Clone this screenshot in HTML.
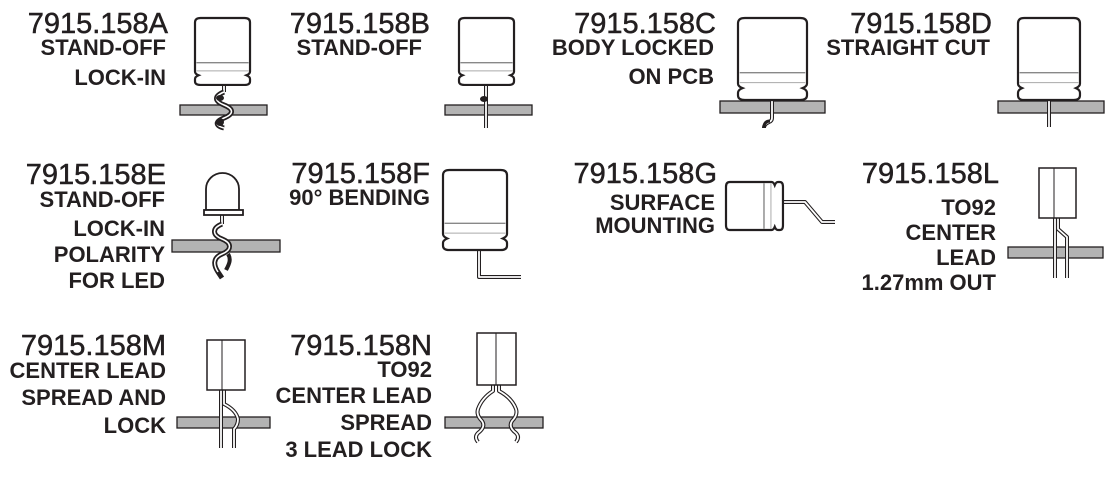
<!DOCTYPE html>
<html><head><meta charset="utf-8"><style>
html,body{margin:0;padding:0;background:#fff;}
svg{display:block;}
.t{font-family:"Liberation Sans",Arial,sans-serif;font-size:29px;fill:#231f20;stroke:#231f20;stroke-width:0.5;text-anchor:end;}
.s{font-family:"Liberation Sans",Arial,sans-serif;font-size:22px;font-weight:bold;fill:#231f20;text-anchor:end;}
.brd{fill:#b3b3b3;stroke:#231f20;stroke-width:1.3;}
.bo{fill:none;stroke:#231f20;stroke-width:4;stroke-linejoin:round;}
.wi{fill:none;stroke:#fff;stroke-width:1.8;stroke-linejoin:round;}
.box{fill:#fff;stroke:#231f20;stroke-width:1.5;}
</style></head><body>
<svg width="1115" height="483" viewBox="0 0 1115 483" xmlns="http://www.w3.org/2000/svg">
<defs>
<g id="cap">
<path d="M6,0 H54 Q60,0 60,6 V72 Q60,75 56,77 Q60,79 60,82 V85 Q60,90 54,90 H6 Q0,90 0,85 V82 Q0,79 4,77 Q0,75 0,72 V6 Q0,0 6,0 Z" fill="#fff" stroke="#231f20" stroke-width="2.2" vector-effect="non-scaling-stroke"/>
<line x1="1.5" y1="60" x2="58.5" y2="60" stroke="#888" stroke-width="1.4" vector-effect="non-scaling-stroke"/>
<line x1="1.5" y1="71" x2="58.5" y2="71" stroke="#aaa" stroke-width="1" vector-effect="non-scaling-stroke"/>
</g>
</defs>

<!-- Row 1 text -->
<text class="t" x="168" y="33">7915.158A</text>
<text class="s" x="166" y="55">STAND-OFF</text>
<text class="s" x="166" y="85">LOCK-IN</text>

<text class="t" x="430" y="33">7915.158B</text>
<text class="s" x="422" y="55">STAND-OFF</text>

<text class="t" x="716" y="33">7915.158C</text>
<text class="s" x="714" y="55">BODY LOCKED</text>
<text class="s" x="714" y="84">ON PCB</text>

<text class="t" x="992" y="33">7915.158D</text>
<text class="s" x="990" y="55">STRAIGHT CUT</text>

<!-- A -->
<rect class="brd" x="180" y="105" width="87" height="10"/>
<path class="bo" d="M224,85 V92"/><path class="wi" d="M224,85 V92"/>
<path d="M224,92 C214,96 214,101 224,105 C234,109 234,114 224,118 C214,122 216,126 224,128" fill="none" stroke="#231f20" stroke-width="5"/>
<path d="M224,92 C214,96 214,101 224,105 C234,109 234,114 224,118 C214,122 216,126 224,128" fill="none" stroke="#fff" stroke-width="1.5"/>
<ellipse cx="220" cy="98" rx="4" ry="3" fill="#231f20"/>
<ellipse cx="220" cy="122" rx="4" ry="4" fill="#231f20"/>
<use href="#cap" transform="translate(195,18) scale(0.917,0.744)"/>

<!-- B -->
<rect class="brd" x="445" y="105" width="87" height="10"/>
<path class="bo" d="M486,85 V128"/><path class="wi" d="M486,85 V128"/>
<ellipse cx="484" cy="99" rx="4" ry="3" fill="#231f20"/>
<use href="#cap" transform="translate(459,18) scale(0.917,0.744)"/>

<!-- C -->
<rect class="brd" x="720" y="101" width="105" height="12"/>
<path class="bo" d="M772,100 V118 Q772,121 769,122 Q764,124 764,128"/><path class="wi" d="M772,100 V118 Q772,121 769,122 Q764,124 764,128"/>
<path d="M764,128 Q764,121 770,121" fill="none" stroke="#231f20" stroke-width="3"/>
<use href="#cap" transform="translate(738,18) scale(1.15,0.911)"/>

<!-- D -->
<rect class="brd" x="998" y="101" width="106" height="12"/>
<path class="bo" d="M1049,100 V127"/><path class="wi" d="M1049,100 V127"/>
<use href="#cap" transform="translate(1018,18) scale(1.033,0.911)"/>

<!-- Row 2 text -->
<text class="t" x="166" y="184">7915.158E</text>
<text class="s" x="165" y="207">STAND-OFF</text>
<text class="s" x="165" y="236">LOCK-IN</text>
<text class="s" x="165" y="262">POLARITY</text>
<text class="s" x="165" y="288">FOR LED</text>

<text class="t" x="430" y="183">7915.158F</text>
<text class="s" x="430" y="205">90° BENDING</text>

<text class="t" x="717" y="183">7915.158G</text>
<text class="s" x="715" y="210">SURFACE</text>
<text class="s" x="715" y="233">MOUNTING</text>

<text class="t" x="999" y="183">7915.158L</text>
<text class="s" x="996" y="215">TO92</text>
<text class="s" x="996" y="240">CENTER</text>
<text class="s" x="996" y="265">LEAD</text>
<text class="s" x="996" y="290">1.27mm OUT</text>

<!-- E LED -->
<rect class="brd" x="172" y="240" width="108" height="12"/>
<path class="bo" d="M222,215 V224"/><path class="wi" d="M222,215 V224"/>
<path d="M222,224 C212,228 212,235 222,239 C232,243 232,250 222,254 C212,258 214,266 218,272 L222,278" fill="none" stroke="#231f20" stroke-width="5"/>
<path d="M222,224 C212,228 212,235 222,239 C232,243 232,250 222,254 C212,258 214,266 218,272" fill="none" stroke="#fff" stroke-width="1.5"/>
<path d="M228,254 C232,260 228,266 226,270" fill="none" stroke="#231f20" stroke-width="4"/>
<path d="M206,210 V189 A16.5,16 0 0 1 239,189 V210 Z" fill="#fff" stroke="#231f20" stroke-width="1.8"/>
<rect x="204" y="210" width="39" height="5" fill="#fff" stroke="#231f20" stroke-width="1.8"/>

<!-- F -->
<path class="bo" d="M479,250 V277 H521"/><path class="wi" d="M479,250 V277 H521"/>
<use href="#cap" transform="translate(443,170) scale(1.067,0.889)"/>

<!-- G -->
<path class="bo" d="M783,202 H805 L822,222 H835"/><path class="wi" d="M783,202 H805 L822,222 H835"/>
<use href="#cap" transform="translate(726,230) rotate(-90) scale(0.8,0.633)"/>

<!-- L -->
<rect class="brd" x="1008" y="247" width="95" height="11"/>
<path class="bo" d="M1055,218 V278"/><path class="wi" d="M1055,218 V278"/>
<path class="bo" d="M1058,218 V229 L1067,237 V278"/><path class="wi" d="M1058,218 V229 L1067,237 V278"/>
<rect class="box" x="1039" y="168" width="37" height="50"/>
<line x1="1054" y1="168" x2="1054" y2="218" stroke="#231f20" stroke-width="1"/>

<!-- Row 3 text -->
<text class="t" x="166" y="355">7915.158M</text>
<text class="s" x="166" y="378">CENTER LEAD</text>
<text class="s" x="166" y="405">SPREAD AND</text>
<text class="s" x="166" y="433">LOCK</text>

<text class="t" x="432" y="355">7915.158N</text>
<text class="s" x="432" y="377">TO92</text>
<text class="s" x="432" y="403">CENTER LEAD</text>
<text class="s" x="432" y="430">SPREAD</text>
<text class="s" x="432" y="457">3 LEAD LOCK</text>

<!-- M -->
<rect class="brd" x="177" y="417" width="93" height="11"/>
<path class="bo" d="M221,390 V448"/><path class="wi" d="M221,390 V448"/>
<path class="bo" d="M224,390 V404 Q236,410 238,419 Q238,425 234,429 V448"/><path class="wi" d="M224,390 V404 Q236,410 238,419 Q238,425 234,429 V448"/>
<rect class="box" x="207" y="340" width="38" height="50"/>
<line x1="222" y1="340" x2="222" y2="390" stroke="#231f20" stroke-width="1"/>

<!-- N -->
<rect class="brd" x="445" y="417" width="98" height="11"/>
<path class="bo" d="M493,385 V391 Q482,398 478,409 Q476,415 482,421 Q486,427 478,433 Q474,437 478,442"/><path class="wi" d="M493,385 V391 Q482,398 478,409 Q476,415 482,421 Q486,427 478,433 Q474,437 478,442"/>
<path class="bo" d="M499,385 V391 Q512,398 516,409 Q518,415 512,421 Q508,427 516,433 Q520,437 516,442"/><path class="wi" d="M499,385 V391 Q512,398 516,409 Q518,415 512,421 Q508,427 516,433 Q520,437 516,442"/>
<rect class="box" x="477" y="333" width="39" height="52"/>
<line x1="496" y1="333" x2="496" y2="385" stroke="#231f20" stroke-width="1"/>
</svg>
</body></html>
